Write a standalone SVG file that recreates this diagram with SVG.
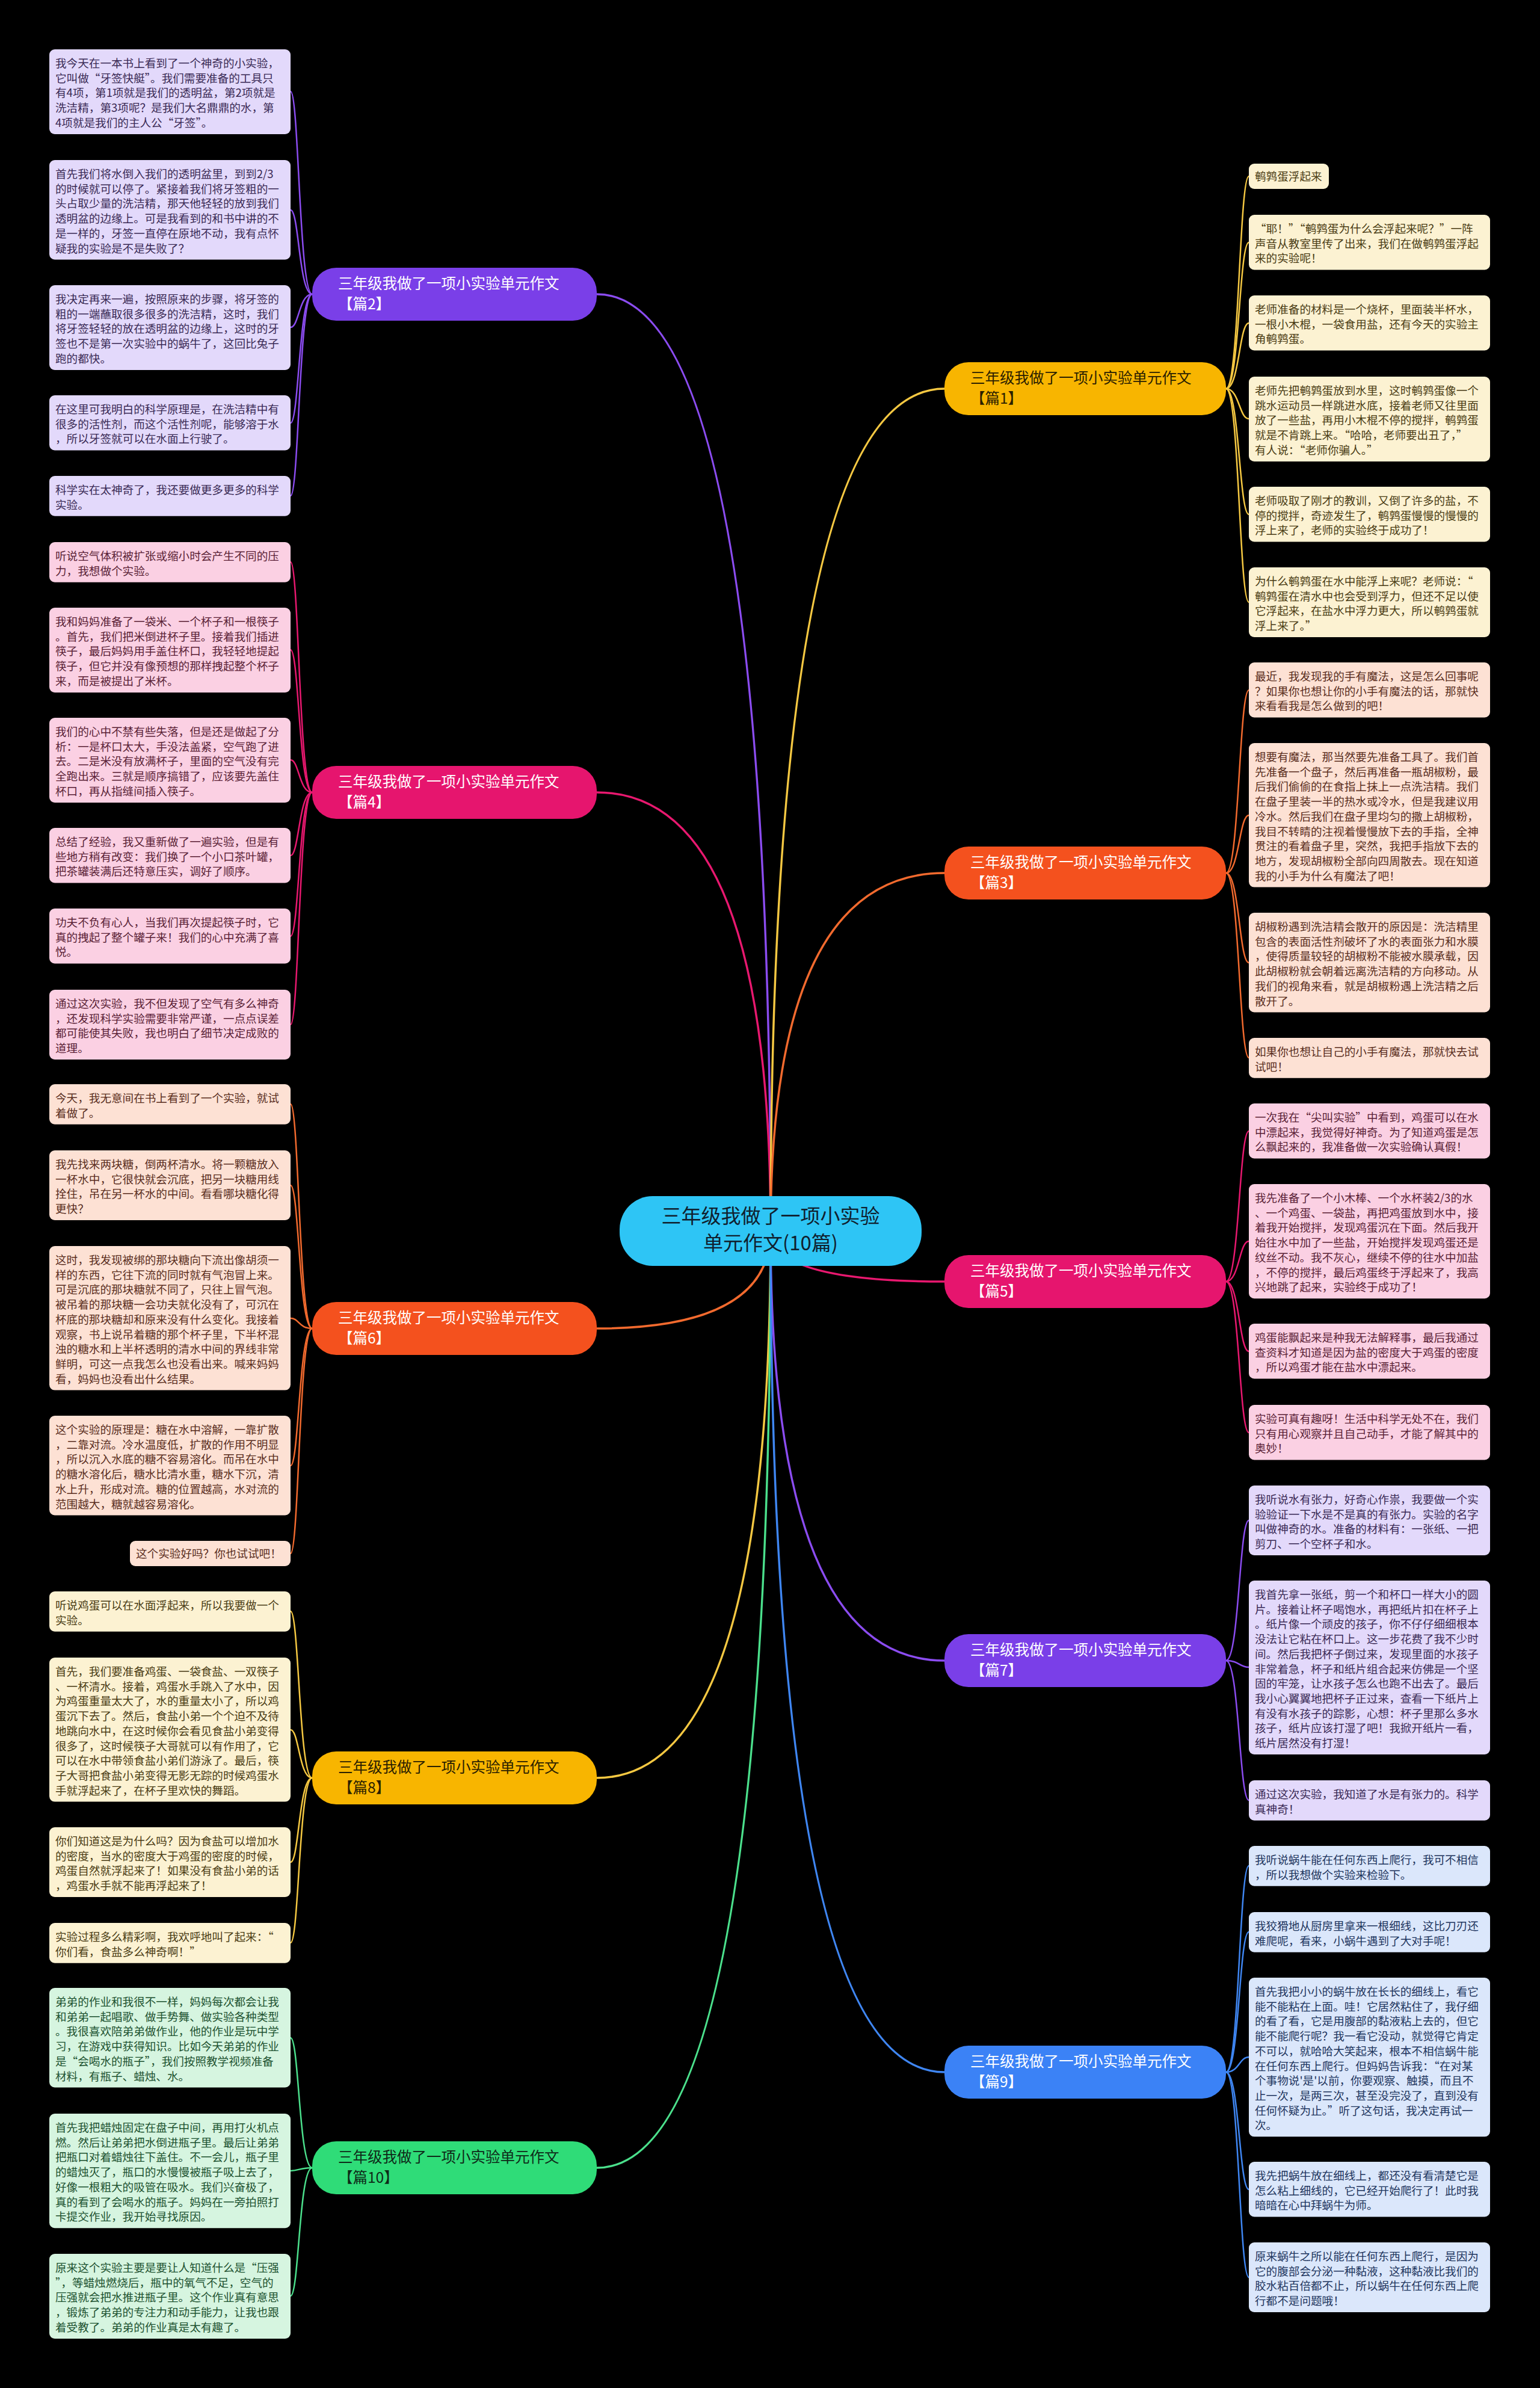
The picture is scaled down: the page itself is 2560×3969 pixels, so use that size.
<svg xmlns="http://www.w3.org/2000/svg" width="2560" height="3969" viewBox="0 0 2560 3969">
<style>
text{font-family:"Noto Sans CJK SC","Noto Sans",sans-serif}
.t{font-size:18.6px}
.nt{font-size:24.5px}
.ct{font-size:33px;fill:#10202e}
.c{fill:none;stroke-linecap:round}
.m{stroke-width:3.5}
.s{stroke-width:2.5}
.pu{stroke:#8b4cf0}.pk{stroke:#e8186f}.or{stroke:#f26a2e}.ye{stroke:#f5c842}.gr{stroke:#4be08c}.bl{stroke:#3f86f2}
.bpu{fill:#e3d9fb}.bpk{fill:#fbd0e3}.bor{fill:#fde1d4}.bye{fill:#fcf2d2}.bgr{fill:#d6f5e0}.bbl{fill:#dbe7fb}
.tpu{fill:#3a2a55}.tpk{fill:#5a1f36}.tor{fill:#5a2e1e}.tye{fill:#4a3c14}.tgr{fill:#1d5230}.tbl{fill:#1e355e}
</style>
<rect x="0" y="0" width="2560" height="3969" fill="#000"/>
<g id="connectors">
<path class="c m pu" d="M1281 2046 Q1281 489 992 489"/>
<path class="c m pk" d="M1281 2046 Q1281 1317 992 1317"/>
<path class="c m or" d="M1281 2046 Q1281 2208 992 2208"/>
<path class="c m ye" d="M1281 2046 Q1281 2955 992 2955"/>
<path class="c m gr" d="M1281 2046 Q1281 3603 992 3603"/>
<path class="c m ye" d="M1281 2046 Q1281 646 1570 646"/>
<path class="c m or" d="M1281 2046 Q1281 1451 1570 1451"/>
<path class="c m pk" d="M1281 2046 Q1281 2130 1570 2130"/>
<path class="c m pu" d="M1281 2046 Q1281 2760 1570 2760"/>
<path class="c m bl" d="M1281 2046 Q1281 3444 1570 3444"/>
<path class="c s pu" d="M519 489 C497 489 497 152 483 152"/>
<path class="c s pu" d="M519 489 C497 489 497 349 483 349"/>
<path class="c s pu" d="M519 489 C497 489 497 544 483 544"/>
<path class="c s pu" d="M519 489 C497 489 497 703 483 703"/>
<path class="c s pu" d="M519 489 C497 489 497 824 483 824"/>
<path class="c s pk" d="M519 1317 C497 1317 497 934 483 934"/>
<path class="c s pk" d="M519 1317 C497 1317 497 1080 483 1080"/>
<path class="c s pk" d="M519 1317 C497 1317 497 1263 483 1263"/>
<path class="c s pk" d="M519 1317 C497 1317 497 1422 483 1422"/>
<path class="c s pk" d="M519 1317 C497 1317 497 1556 483 1556"/>
<path class="c s pk" d="M519 1317 C497 1317 497 1703 483 1703"/>
<path class="c s or" d="M519 2208 C497 2208 497 1835 483 1835"/>
<path class="c s or" d="M519 2208 C497 2208 497 1970 483 1970"/>
<path class="c s or" d="M519 2208 C497 2208 497 2191 483 2191"/>
<path class="c s or" d="M519 2208 C497 2208 497 2436 483 2436"/>
<path class="c s or" d="M519 2208 C497 2208 497 2582 483 2582"/>
<path class="c s ye" d="M519 2955 C497 2955 497 2678 483 2678"/>
<path class="c s ye" d="M519 2955 C497 2955 497 2875 483 2875"/>
<path class="c s ye" d="M519 2955 C497 2955 497 3095 483 3095"/>
<path class="c s ye" d="M519 2955 C497 2955 497 3229 483 3229"/>
<path class="c s gr" d="M519 3603 C497 3603 497 3387 483 3387"/>
<path class="c s gr" d="M519 3603 C497 3603 497 3608 483 3608"/>
<path class="c s gr" d="M519 3603 C497 3603 497 3816 483 3816"/>
<path class="c s ye" d="M2038 646 C2060 646 2060 293 2076 293"/>
<path class="c s ye" d="M2038 646 C2060 646 2060 403 2076 403"/>
<path class="c s ye" d="M2038 646 C2060 646 2060 537 2076 537"/>
<path class="c s ye" d="M2038 646 C2060 646 2060 696 2076 696"/>
<path class="c s ye" d="M2038 646 C2060 646 2060 855 2076 855"/>
<path class="c s ye" d="M2038 646 C2060 646 2060 1001 2076 1001"/>
<path class="c s or" d="M2038 1451 C2060 1451 2060 1147 2076 1147"/>
<path class="c s or" d="M2038 1451 C2060 1451 2060 1355 2076 1355"/>
<path class="c s or" d="M2038 1451 C2060 1451 2060 1600 2076 1600"/>
<path class="c s or" d="M2038 1451 C2060 1451 2060 1758 2076 1758"/>
<path class="c s pk" d="M2038 2130 C2060 2130 2060 1880 2076 1880"/>
<path class="c s pk" d="M2038 2130 C2060 2130 2060 2063 2076 2063"/>
<path class="c s pk" d="M2038 2130 C2060 2130 2060 2246 2076 2246"/>
<path class="c s pk" d="M2038 2130 C2060 2130 2060 2381 2076 2381"/>
<path class="c s pu" d="M2038 2760 C2060 2760 2060 2527 2076 2527"/>
<path class="c s pu" d="M2038 2760 C2060 2760 2060 2771 2076 2771"/>
<path class="c s pu" d="M2038 2760 C2060 2760 2060 2992 2076 2992"/>
<path class="c s bl" d="M2038 3444 C2060 3444 2060 3101 2076 3101"/>
<path class="c s bl" d="M2038 3444 C2060 3444 2060 3211 2076 3211"/>
<path class="c s bl" d="M2038 3444 C2060 3444 2060 3419 2076 3419"/>
<path class="c s bl" d="M2038 3444 C2060 3444 2060 3639 2076 3639"/>
<path class="c s bl" d="M2038 3444 C2060 3444 2060 3785 2076 3785"/>
</g>
<g id="center">
<rect x="1030" y="1988" width="502" height="116" rx="55" fill="#2ec5f5"/>
<text class="ct" x="1281" y="2033" text-anchor="middle">三年级我做了一项小实验</text>
<text class="ct" x="1281" y="2078" text-anchor="middle">单元作文(10篇)</text>
</g>
<g id="n2"><rect x="519" y="445" width="473" height="88" rx="40" fill="#7a3fe8"/><text class="nt" x="562" y="480" fill="#fff">三年级我做了一项小实验单元作文<tspan x="562" dy="34">【篇2】</tspan></text></g>
<g id="n4"><rect x="519" y="1273" width="473" height="88" rx="40" fill="#e6156e"/><text class="nt" x="562" y="1308" fill="#fff">三年级我做了一项小实验单元作文<tspan x="562" dy="34">【篇4】</tspan></text></g>
<g id="n6"><rect x="519" y="2164" width="473" height="88" rx="40" fill="#f4511e"/><text class="nt" x="562" y="2199" fill="#fff">三年级我做了一项小实验单元作文<tspan x="562" dy="34">【篇6】</tspan></text></g>
<g id="n8"><rect x="519" y="2911" width="473" height="88" rx="40" fill="#f8b500"/><text class="nt" x="562" y="2946" fill="#2a2000">三年级我做了一项小实验单元作文<tspan x="562" dy="34">【篇8】</tspan></text></g>
<g id="n10"><rect x="519" y="3559" width="473" height="88" rx="40" fill="#2fdc78"/><text class="nt" x="562" y="3594" fill="#0e2a18">三年级我做了一项小实验单元作文<tspan x="562" dy="34">【篇10】</tspan></text></g>
<g id="n1"><rect x="1570" y="602" width="468" height="88" rx="40" fill="#f8b500"/><text class="nt" x="1613" y="637" fill="#2a2000">三年级我做了一项小实验单元作文<tspan x="1613" dy="34">【篇1】</tspan></text></g>
<g id="n3"><rect x="1570" y="1407" width="468" height="88" rx="40" fill="#f4511e"/><text class="nt" x="1613" y="1442" fill="#fff">三年级我做了一项小实验单元作文<tspan x="1613" dy="34">【篇3】</tspan></text></g>
<g id="n5"><rect x="1570" y="2086" width="468" height="88" rx="40" fill="#e6156e"/><text class="nt" x="1613" y="2121" fill="#fff">三年级我做了一项小实验单元作文<tspan x="1613" dy="34">【篇5】</tspan></text></g>
<g id="n7"><rect x="1570" y="2716" width="468" height="88" rx="40" fill="#7a3fe8"/><text class="nt" x="1613" y="2751" fill="#fff">三年级我做了一项小实验单元作文<tspan x="1613" dy="34">【篇7】</tspan></text></g>
<g id="n9"><rect x="1570" y="3400" width="468" height="88" rx="40" fill="#3b82f6"/><text class="nt" x="1613" y="3435" fill="#fff">三年级我做了一项小实验单元作文<tspan x="1613" dy="34">【篇9】</tspan></text></g>

<g id="b1"><rect class="bpu" x="82" y="82" width="401" height="141" rx="9"/><text class="t tpu" x="92" y="112">我今天在一本书上看到了一个神奇的小实验，<tspan x="92" dy="24.7">它叫做“牙签快艇”。我们需要准备的工具只</tspan><tspan x="92" dy="24.7">有4项，第1项就是我们的透明盆，第2项就是</tspan><tspan x="92" dy="24.7">洗洁精，第3项呢？是我们大名鼎鼎的水，第</tspan><tspan x="92" dy="24.7">4项就是我们的主人公“牙签”。</tspan></text></g>
<g id="b2"><rect class="bpu" x="82" y="266" width="401" height="165.5" rx="9"/><text class="t tpu" x="92" y="296">首先我们将水倒入我们的透明盆里，到到2/3<tspan x="92" dy="24.7">的时候就可以停了。紧接着我们将牙签粗的一</tspan><tspan x="92" dy="24.7">头占取少量的洗洁精，那天他轻轻的放到我们</tspan><tspan x="92" dy="24.7">透明盆的边缘上。可是我看到的和书中讲的不</tspan><tspan x="92" dy="24.7">是一样的，牙签一直停在原地不动，我有点怀</tspan><tspan x="92" dy="24.7">疑我的实验是不是失败了？</tspan></text></g>
<g id="b3"><rect class="bpu" x="82" y="474" width="401" height="141" rx="9"/><text class="t tpu" x="92" y="504">我决定再来一遍，按照原来的步骤，将牙签的<tspan x="92" dy="24.7">粗的一端蘸取很多很多的洗洁精，这时，我们</tspan><tspan x="92" dy="24.7">将牙签轻轻的放在透明盆的边缘上，这时的牙</tspan><tspan x="92" dy="24.7">签也不是第一次实验中的蜗牛了，这回比兔子</tspan><tspan x="92" dy="24.7">跑的都快。</tspan></text></g>
<g id="b4"><rect class="bpu" x="82" y="657" width="401" height="91.4" rx="9"/><text class="t tpu" x="92" y="687">在这里可我明白的科学原理是，在洗洁精中有<tspan x="92" dy="24.7">很多的活性剂，而这个活性剂呢，能够溶于水</tspan><tspan x="92" dy="24.7">，所以牙签就可以在水面上行驶了。</tspan></text></g>
<g id="b5"><rect class="bpu" x="82" y="791" width="401" height="66.7" rx="9"/><text class="t tpu" x="92" y="821">科学实在太神奇了，我还要做更多更多的科学<tspan x="92" dy="24.7">实验。</tspan></text></g>

<g id="b6"><rect class="bpk" x="82" y="901" width="401" height="66.7" rx="9"/><text class="t tpk" x="92" y="931">听说空气体积被扩张或缩小时会产生不同的压<tspan x="92" dy="24.7">力，我想做个实验。</tspan></text></g>
<g id="b7"><rect class="bpk" x="82" y="1010" width="401" height="141" rx="9"/><text class="t tpk" x="92" y="1040">我和妈妈准备了一袋米、一个杯子和一根筷子<tspan x="92" dy="24.7">。首先，我们把米倒进杯子里。接着我们插进</tspan><tspan x="92" dy="24.7">筷子，最后妈妈用手盖住杯口，我轻轻地提起</tspan><tspan x="92" dy="24.7">筷子，但它并没有像预想的那样拽起整个杯子</tspan><tspan x="92" dy="24.7">来，而是被提出了米杯。</tspan></text></g>
<g id="b8"><rect class="bpk" x="82" y="1193" width="401" height="141" rx="9"/><text class="t tpk" x="92" y="1223">我们的心中不禁有些失落，但是还是做起了分<tspan x="92" dy="24.7">析：一是杯口太大，手没法盖紧，空气跑了进</tspan><tspan x="92" dy="24.7">去。二是米没有放满杯子，里面的空气没有完</tspan><tspan x="92" dy="24.7">全跑出来。三就是顺序搞错了，应该要先盖住</tspan><tspan x="92" dy="24.7">杯口，再从指缝间插入筷子。</tspan></text></g>
<g id="b9"><rect class="bpk" x="82" y="1376" width="401" height="91.4" rx="9"/><text class="t tpk" x="92" y="1406">总结了经验，我又重新做了一遍实验，但是有<tspan x="92" dy="24.7">些地方稍有改变：我们换了一个小口茶叶罐，</tspan><tspan x="92" dy="24.7">把茶罐装满后还特意压实，调好了顺序。</tspan></text></g>
<g id="b10"><rect class="bpk" x="82" y="1510" width="401" height="91.4" rx="9"/><text class="t tpk" x="92" y="1540">功夫不负有心人，当我们再次提起筷子时，它<tspan x="92" dy="24.7">真的拽起了整个罐子来！我们的心中充满了喜</tspan><tspan x="92" dy="24.7">悦。</tspan></text></g>
<g id="b11"><rect class="bpk" x="82" y="1645" width="401" height="116" rx="9"/><text class="t tpk" x="92" y="1675">通过这次实验，我不但发现了空气有多么神奇<tspan x="92" dy="24.7">，还发现科学实验需要非常严谨，一点点误差</tspan><tspan x="92" dy="24.7">都可能使其失败，我也明白了细节决定成败的</tspan><tspan x="92" dy="24.7">道理。</tspan></text></g>

<g id="b12"><rect class="bor" x="82" y="1802" width="401" height="66.7" rx="9"/><text class="t tor" x="92" y="1832">今天，我无意间在书上看到了一个实验，就试<tspan x="92" dy="24.7">着做了。</tspan></text></g>
<g id="b13"><rect class="bor" x="82" y="1912" width="401" height="116" rx="9"/><text class="t tor" x="92" y="1942">我先找来两块糖，倒两杯清水。将一颗糖放入<tspan x="92" dy="24.7">一杯水中，它很快就会沉底，把另一块糖用线</tspan><tspan x="92" dy="24.7">拴住，吊在另一杯水的中间。看看哪块糖化得</tspan><tspan x="92" dy="24.7">更快？</tspan></text></g>
<g id="b14"><rect class="bor" x="82" y="2071" width="401" height="239.6" rx="9"/><text class="t tor" x="92" y="2101">这时，我发现被绑的那块糖向下流出像胡须一<tspan x="92" dy="24.7">样的东西，它往下流的同时就有气泡冒上来。</tspan><tspan x="92" dy="24.7">可是沉底的那块糖就不同了，只往上冒气泡。</tspan><tspan x="92" dy="24.7">被吊着的那块糖一会功夫就化没有了，可沉在</tspan><tspan x="92" dy="24.7">杯底的那块糖却和原来没有什么变化。我接着</tspan><tspan x="92" dy="24.7">观察，书上说吊着糖的那个杯子里，下半杯混</tspan><tspan x="92" dy="24.7">浊的糖水和上半杯透明的清水中间的界线非常</tspan><tspan x="92" dy="24.7">鲜明，可这一点我怎么也没看出来。喊来妈妈</tspan><tspan x="92" dy="24.7">看，妈妈也没看出什么结果。</tspan></text></g>
<g id="b15"><rect class="bor" x="82" y="2353" width="401" height="165.5" rx="9"/><text class="t tor" x="92" y="2383">这个实验的原理是：糖在水中溶解，一靠扩散<tspan x="92" dy="24.7">，二靠对流。冷水温度低，扩散的作用不明显</tspan><tspan x="92" dy="24.7">，所以沉入水底的糖不容易溶化。而吊在水中</tspan><tspan x="92" dy="24.7">的糖水溶化后，糖水比清水重，糖水下沉，清</tspan><tspan x="92" dy="24.7">水上升，形成对流。糖的位置越高，水对流的</tspan><tspan x="92" dy="24.7">范围越大，糖就越容易溶化。</tspan></text></g>
<g id="b16"><rect class="bor" x="216" y="2561" width="267" height="42" rx="9"/><text class="t tor" x="226" y="2589">这个实验好吗？你也试试吧！</text></g>

<g id="b17"><rect class="bye" x="82" y="2645" width="401" height="66.7" rx="9"/><text class="t tye" x="92" y="2675">听说鸡蛋可以在水面浮起来，所以我要做一个<tspan x="92" dy="24.7">实验。</tspan></text></g>
<g id="b18"><rect class="bye" x="82" y="2755" width="401" height="239.6" rx="9"/><text class="t tye" x="92" y="2785">首先，我们要准备鸡蛋、一袋食盐、一双筷子<tspan x="92" dy="24.7">、一杯清水。接着，鸡蛋水手跳入了水中，因</tspan><tspan x="92" dy="24.7">为鸡蛋重量太大了，水的重量太小了，所以鸡</tspan><tspan x="92" dy="24.7">蛋沉下去了。然后，食盐小弟一个个迫不及待</tspan><tspan x="92" dy="24.7">地跳向水中，在这时候你会看见食盐小弟变得</tspan><tspan x="92" dy="24.7">很多了，这时候筷子大哥就可以有作用了，它</tspan><tspan x="92" dy="24.7">可以在水中带领食盐小弟们游泳了。最后，筷</tspan><tspan x="92" dy="24.7">子大哥把食盐小弟变得无影无踪的时候鸡蛋水</tspan><tspan x="92" dy="24.7">手就浮起来了，在杯子里欢快的舞蹈。</tspan></text></g>
<g id="b19"><rect class="bye" x="82" y="3037" width="401" height="116" rx="9"/><text class="t tye" x="92" y="3067">你们知道这是为什么吗？因为食盐可以增加水<tspan x="92" dy="24.7">的密度，当水的密度大于鸡蛋的密度的时候，</tspan><tspan x="92" dy="24.7">鸡蛋自然就浮起来了！如果没有食盐小弟的话</tspan><tspan x="92" dy="24.7">，鸡蛋水手就不能再浮起来了！</tspan></text></g>
<g id="b20"><rect class="bye" x="82" y="3196" width="401" height="66.7" rx="9"/><text class="t tye" x="92" y="3226">实验过程多么精彩啊，我欢呼地叫了起来：“<tspan x="92" dy="24.7">你们看，食盐多么神奇啊！”</tspan></text></g>

<g id="b21"><rect class="bgr" x="82" y="3304" width="401" height="165.5" rx="9"/><text class="t tgr" x="92" y="3334">弟弟的作业和我很不一样，妈妈每次都会让我<tspan x="92" dy="24.7">和弟弟一起唱歌、做手势舞、做实验各种类型</tspan><tspan x="92" dy="24.7">。我很喜欢陪弟弟做作业，他的作业是玩中学</tspan><tspan x="92" dy="24.7">习，在游戏中获得知识。比如今天弟弟的作业</tspan><tspan x="92" dy="24.7">是“会喝水的瓶子”，我们按照教学视频准备</tspan><tspan x="92" dy="24.7">材料，有瓶子、蜡烛、水。</tspan></text></g>
<g id="b22"><rect class="bgr" x="82" y="3513" width="401" height="190.2" rx="9"/><text class="t tgr" x="92" y="3543">首先我把蜡烛固定在盘子中间，再用打火机点<tspan x="92" dy="24.7">燃。然后让弟弟把水倒进瓶子里。最后让弟弟</tspan><tspan x="92" dy="24.7">把瓶口对着蜡烛往下盖住。不一会儿，瓶子里</tspan><tspan x="92" dy="24.7">的蜡烛灭了，瓶口的水慢慢被瓶子吸上去了，</tspan><tspan x="92" dy="24.7">好像一根粗大的吸管在吸水。我们兴奋极了，</tspan><tspan x="92" dy="24.7">真的看到了会喝水的瓶子。妈妈在一旁拍照打</tspan><tspan x="92" dy="24.7">卡提交作业，我开始寻找原因。</tspan></text></g>
<g id="b23"><rect class="bgr" x="82" y="3746" width="401" height="141" rx="9"/><text class="t tgr" x="92" y="3776">原来这个实验主要是要让人知道什么是“压强<tspan x="92" dy="24.7">”，等蜡烛燃烧后，瓶中的氧气不足，空气的</tspan><tspan x="92" dy="24.7">压强就会把水推进瓶子里。这个作业真有意思</tspan><tspan x="92" dy="24.7">，锻炼了弟弟的专注力和动手能力，让我也跟</tspan><tspan x="92" dy="24.7">着受教了。弟弟的作业真是太有趣了。</tspan></text></g>

<g id="r1"><rect class="bye" x="2076" y="272" width="133" height="42" rx="9"/><text class="t tye" x="2086" y="300">鹌鹑蛋浮起来</text></g>
<g id="r2"><rect class="bye" x="2076" y="357" width="401" height="91.4" rx="9"/><text class="t tye" x="2086" y="387">“耶！”“鹌鹑蛋为什么会浮起来呢？”一阵<tspan x="2086" dy="24.7">声音从教室里传了出来，我们在做鹌鹑蛋浮起</tspan><tspan x="2086" dy="24.7">来的实验呢！</tspan></text></g>
<g id="r3"><rect class="bye" x="2076" y="491" width="401" height="91.4" rx="9"/><text class="t tye" x="2086" y="521">老师准备的材料是一个烧杯，里面装半杯水，<tspan x="2086" dy="24.7">一根小木棍，一袋食用盐，还有今天的实验主</tspan><tspan x="2086" dy="24.7">角鹌鹑蛋。</tspan></text></g>
<g id="r4"><rect class="bye" x="2076" y="626" width="401" height="141" rx="9"/><text class="t tye" x="2086" y="656">老师先把鹌鹑蛋放到水里，这时鹌鹑蛋像一个<tspan x="2086" dy="24.7">跳水运动员一样跳进水底，接着老师又往里面</tspan><tspan x="2086" dy="24.7">放了一些盐，再用小木棍不停的搅拌，鹌鹑蛋</tspan><tspan x="2086" dy="24.7">就是不肯跳上来。“哈哈，老师要出丑了，”</tspan><tspan x="2086" dy="24.7">有人说：“老师你骗人。”</tspan></text></g>
<g id="r5"><rect class="bye" x="2076" y="809" width="401" height="91.4" rx="9"/><text class="t tye" x="2086" y="839">老师吸取了刚才的教训，又倒了许多的盐，不<tspan x="2086" dy="24.7">停的搅拌，奇迹发生了，鹌鹑蛋慢慢的慢慢的</tspan><tspan x="2086" dy="24.7">浮上来了，老师的实验终于成功了！</tspan></text></g>
<g id="r6"><rect class="bye" x="2076" y="943" width="401" height="116" rx="9"/><text class="t tye" x="2086" y="973">为什么鹌鹑蛋在水中能浮上来呢？老师说：“<tspan x="2086" dy="24.7">鹌鹑蛋在清水中也会受到浮力，但还不足以使</tspan><tspan x="2086" dy="24.7">它浮起来，在盐水中浮力更大，所以鹌鹑蛋就</tspan><tspan x="2086" dy="24.7">浮上来了。”</tspan></text></g>

<g id="r7"><rect class="bor" x="2076" y="1101" width="401" height="91.4" rx="9"/><text class="t tor" x="2086" y="1131">最近，我发现我的手有魔法，这是怎么回事呢<tspan x="2086" dy="24.7">？如果你也想让你的小手有魔法的话，那就快</tspan><tspan x="2086" dy="24.7">来看看我是怎么做到的吧！</tspan></text></g>
<g id="r8"><rect class="bor" x="2076" y="1235" width="401" height="239.6" rx="9"/><text class="t tor" x="2086" y="1265">想要有魔法，那当然要先准备工具了。我们首<tspan x="2086" dy="24.7">先准备一个盘子，然后再准备一瓶胡椒粉，最</tspan><tspan x="2086" dy="24.7">后我们偷偷的在食指上抹上一点洗洁精。我们</tspan><tspan x="2086" dy="24.7">在盘子里装一半的热水或冷水，但是我建议用</tspan><tspan x="2086" dy="24.7">冷水。然后我们在盘子里均匀的撒上胡椒粉，</tspan><tspan x="2086" dy="24.7">我目不转睛的注视着慢慢放下去的手指，全神</tspan><tspan x="2086" dy="24.7">贯注的看着盘子里，突然，我把手指放下去的</tspan><tspan x="2086" dy="24.7">地方，发现胡椒粉全部向四周散去。现在知道</tspan><tspan x="2086" dy="24.7">我的小手为什么有魔法了吧！</tspan></text></g>
<g id="r9"><rect class="bor" x="2076" y="1517" width="401" height="165.5" rx="9"/><text class="t tor" x="2086" y="1547">胡椒粉遇到洗洁精会散开的原因是：洗洁精里<tspan x="2086" dy="24.7">包含的表面活性剂破坏了水的表面张力和水膜</tspan><tspan x="2086" dy="24.7">，使得质量较轻的胡椒粉不能被水膜承载，因</tspan><tspan x="2086" dy="24.7">此胡椒粉就会朝着远离洗洁精的方向移动。从</tspan><tspan x="2086" dy="24.7">我们的视角来看，就是胡椒粉遇上洗洁精之后</tspan><tspan x="2086" dy="24.7">散开了。</tspan></text></g>
<g id="r10"><rect class="bor" x="2076" y="1725" width="401" height="66.7" rx="9"/><text class="t tor" x="2086" y="1755">如果你也想让自己的小手有魔法，那就快去试<tspan x="2086" dy="24.7">试吧！</tspan></text></g>

<g id="r11"><rect class="bpk" x="2076" y="1834" width="401" height="91.4" rx="9"/><text class="t tpk" x="2086" y="1864">一次我在“尖叫实验”中看到，鸡蛋可以在水<tspan x="2086" dy="24.7">中漂起来，我觉得好神奇。为了知道鸡蛋是怎</tspan><tspan x="2086" dy="24.7">么飘起来的，我准备做一次实验确认真假！</tspan></text></g>
<g id="r12"><rect class="bpk" x="2076" y="1968" width="401" height="190.2" rx="9"/><text class="t tpk" x="2086" y="1998">我先准备了一个小木棒、一个水杯装2/3的水<tspan x="2086" dy="24.7">、一个鸡蛋、一袋盐，再把鸡蛋放到水中，接</tspan><tspan x="2086" dy="24.7">着我开始搅拌，发现鸡蛋沉在下面。然后我开</tspan><tspan x="2086" dy="24.7">始往水中加了一些盐，开始搅拌发现鸡蛋还是</tspan><tspan x="2086" dy="24.7">纹丝不动。我不灰心，继续不停的往水中加盐</tspan><tspan x="2086" dy="24.7">，不停的搅拌，最后鸡蛋终于浮起来了，我高</tspan><tspan x="2086" dy="24.7">兴地跳了起来，实验终于成功了！</tspan></text></g>
<g id="r13"><rect class="bpk" x="2076" y="2200" width="401" height="91.4" rx="9"/><text class="t tpk" x="2086" y="2230">鸡蛋能飘起来是种我无法解释事，最后我通过<tspan x="2086" dy="24.7">查资料才知道是因为盐的密度大于鸡蛋的密度</tspan><tspan x="2086" dy="24.7">，所以鸡蛋才能在盐水中漂起来。</tspan></text></g>
<g id="r14"><rect class="bpk" x="2076" y="2335" width="401" height="91.4" rx="9"/><text class="t tpk" x="2086" y="2365">实验可真有趣呀！生活中科学无处不在，我们<tspan x="2086" dy="24.7">只有用心观察并且自己动手，才能了解其中的</tspan><tspan x="2086" dy="24.7">奥妙！</tspan></text></g>

<g id="r15"><rect class="bpu" x="2076" y="2469" width="401" height="116" rx="9"/><text class="t tpu" x="2086" y="2499">我听说水有张力，好奇心作祟，我要做一个实<tspan x="2086" dy="24.7">验验证一下水是不是真的有张力。实验的名字</tspan><tspan x="2086" dy="24.7">叫做神奇的水。准备的材料有：一张纸、一把</tspan><tspan x="2086" dy="24.7">剪刀、一个空杯子和水。</tspan></text></g>
<g id="r16"><rect class="bpu" x="2076" y="2627" width="401" height="289" rx="9"/><text class="t tpu" x="2086" y="2657">我首先拿一张纸，剪一个和杯口一样大小的圆<tspan x="2086" dy="24.7">片。接着让杯子喝饱水，再把纸片扣在杯子上</tspan><tspan x="2086" dy="24.7">。纸片像一个顽皮的孩子，你不仔仔细细根本</tspan><tspan x="2086" dy="24.7">没法让它粘在杯口上。这一步花费了我不少时</tspan><tspan x="2086" dy="24.7">间。然后我把杯子倒过来，发现里面的水孩子</tspan><tspan x="2086" dy="24.7">非常着急，杯子和纸片组合起来仿佛是一个坚</tspan><tspan x="2086" dy="24.7">固的牢笼，让水孩子怎么也跑不出去了。最后</tspan><tspan x="2086" dy="24.7">我小心翼翼地把杯子正过来，查看一下纸片上</tspan><tspan x="2086" dy="24.7">有没有水孩子的踪影，心想：杯子里那么多水</tspan><tspan x="2086" dy="24.7">孩子，纸片应该打湿了吧！我掀开纸片一看，</tspan><tspan x="2086" dy="24.7">纸片居然没有打湿！</tspan></text></g>
<g id="r17"><rect class="bpu" x="2076" y="2959" width="401" height="66.7" rx="9"/><text class="t tpu" x="2086" y="2989">通过这次实验，我知道了水是有张力的。科学<tspan x="2086" dy="24.7">真神奇！</tspan></text></g>

<g id="r18"><rect class="bbl" x="2076" y="3068" width="401" height="66.7" rx="9"/><text class="t tbl" x="2086" y="3098">我听说蜗牛能在任何东西上爬行，我可不相信<tspan x="2086" dy="24.7">，所以我想做个实验来检验下。</tspan></text></g>
<g id="r19"><rect class="bbl" x="2076" y="3178" width="401" height="66.7" rx="9"/><text class="t tbl" x="2086" y="3208">我狡猾地从厨房里拿来一根细线，这比刀刃还<tspan x="2086" dy="24.7">难爬呢，看来，小蜗牛遇到了大对手呢！</tspan></text></g>
<g id="r20"><rect class="bbl" x="2076" y="3287" width="401" height="264.3" rx="9"/><text class="t tbl" x="2086" y="3317">首先我把小小的蜗牛放在长长的细线上，看它<tspan x="2086" dy="24.7">能不能粘在上面。哇！它居然粘住了，我仔细</tspan><tspan x="2086" dy="24.7">的看了看，它是用腹部的黏液粘上去的，但它</tspan><tspan x="2086" dy="24.7">能不能爬行呢？我一看它没动，就觉得它肯定</tspan><tspan x="2086" dy="24.7">不可以，就哈哈大笑起来，根本不相信蜗牛能</tspan><tspan x="2086" dy="24.7">在任何东西上爬行。但妈妈告诉我：“在对某</tspan><tspan x="2086" dy="24.7">个事物说'是'以前，你要观察、触摸，而且不</tspan><tspan x="2086" dy="24.7">止一次，是两三次，甚至没完没了，直到没有</tspan><tspan x="2086" dy="24.7">任何怀疑为止。”听了这句话，我决定再试一</tspan><tspan x="2086" dy="24.7">次。</tspan></text></g>
<g id="r21"><rect class="bbl" x="2076" y="3593" width="401" height="91.4" rx="9"/><text class="t tbl" x="2086" y="3623">我先把蜗牛放在细线上，都还没有看清楚它是<tspan x="2086" dy="24.7">怎么粘上细线的，它已经开始爬行了！此时我</tspan><tspan x="2086" dy="24.7">暗暗在心中拜蜗牛为师。</tspan></text></g>
<g id="r22"><rect class="bbl" x="2076" y="3727" width="401" height="116" rx="9"/><text class="t tbl" x="2086" y="3757">原来蜗牛之所以能在任何东西上爬行，是因为<tspan x="2086" dy="24.7">它的腹部会分泌一种黏液，这种黏液比我们的</tspan><tspan x="2086" dy="24.7">胶水粘百倍都不止，所以蜗牛在任何东西上爬</tspan><tspan x="2086" dy="24.7">行都不是问题哦！</tspan></text></g>
</svg>
